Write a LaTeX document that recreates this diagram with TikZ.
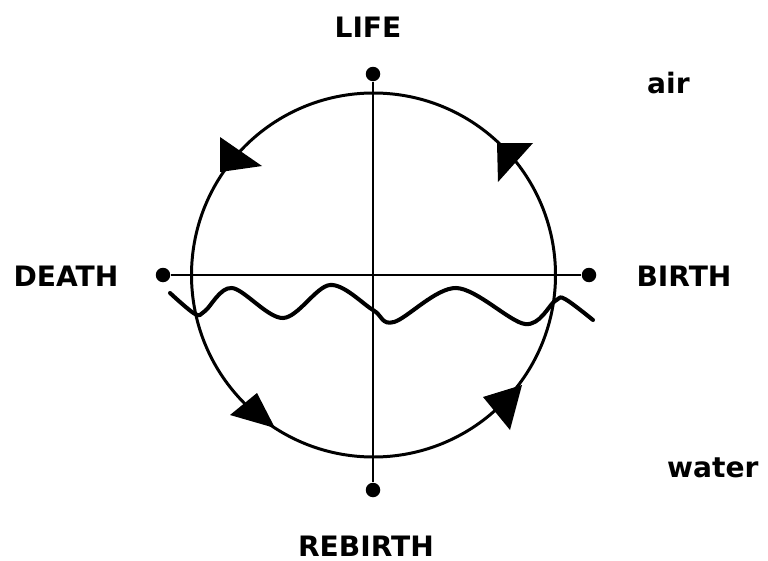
\documentclass[tikz,border=0pt]{standalone}
\usepackage{fontspec}
\setmainfont{DejaVu Sans}
\usetikzlibrary{positioning}
\tikzset{line width=1pt,
  every node/.style={font=\bfseries\fontsize{16}{18}\selectfont},
  rim/.style={draw,line width=1.7pt},
  cross/.style={draw,line width=1.1pt},
  wave/.style={draw,line width=2.3pt,line join=round,line cap=round},
  dot/.style={circle,fill,inner sep=0pt,minimum size=.29cm},
  head/.style={fill}}
\begin{document}
\begin{tikzpicture}[x=.02cm,y=-.02cm]
\useasboundingbox(0,0)rectangle(768,561);
\node[dot](ltop)at(373,74){};\node[dot](lbot)at(373,490){};
\node[dot](ldeath)at(163,275){};\node[dot](lbirth)at(589,275){};
\draw[cross](ltop)--(lbot);\draw[cross](ldeath)--(lbirth);
\draw[rim](373.5,275)circle(182);
% flow arrows round the circle
\fill[head](220,137)--(262,166)--(220,172)--cycle;
\fill[head](497,143)--(533,143)--(498,182)--cycle;
\fill[head](230,415)--(257,393)--(275,428)--cycle;
\fill[head](483,397)--(522,385)--(510,430)--cycle;
% water line
\draw[wave]plot[smooth,tension=.55]coordinates{(170,293)(195,314)(205,311)(232,288)(283,318)(330,285)(373,310)(394,322)(456,288)(525,324)(555,301)(565,299)(593,320)};
\node(life)at(368,27){LIFE};\node[inner sep=0pt](rebirth)at(366,546){REBIRTH};
\node(death)at(66,276){DEATH};\node(birth)at(684,276){BIRTH};
\node[anchor=base west](air)at(641,93){air};\node[anchor=base west](water)at(661,477){water};
\end{tikzpicture}
\end{document}
